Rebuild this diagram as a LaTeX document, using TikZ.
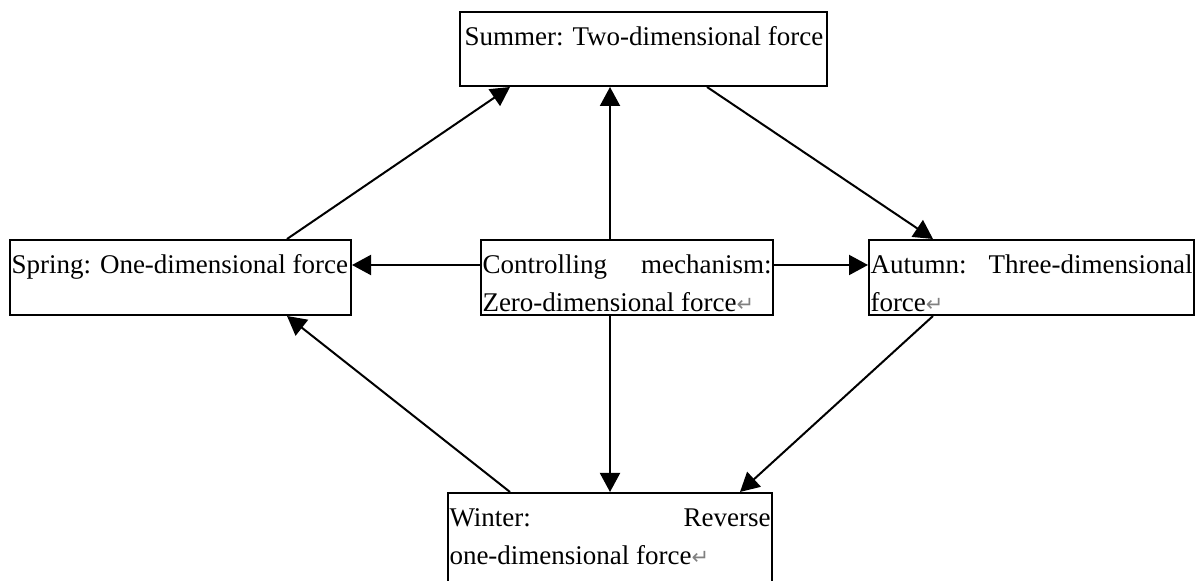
\documentclass[tikz,border=0pt]{standalone}
\usepackage{fontspec}
\setmainfont{Liberation Serif}
\newfontfamily\markfont{DejaVu Sans}
\usetikzlibrary{arrows.meta}

\newcommand{\pmark}{{\markfont\color{gray}\fontsize{10.5pt}{10.5pt}\selectfont ↵}}
\newcommand{\boxtext}[3]{\parbox[t][#2][t]{#1}{\fontsize{13.5pt}{19pt}\selectfont\rule{0pt}{17pt}#3}}

\begin{document}
\begin{tikzpicture}[x=0.5pt,y=-0.5pt]

\tikzset{season/.style = {draw, line width=1pt, inner xsep=0.75pt, inner ysep=0pt, anchor=north west}}
\tikzset{link/.style = {-{Triangle[length=9.5pt,width=10pt]}, line width=1pt}}

\useasboundingbox (0,0) rectangle (1198,581);
\clip (0,0) rectangle (1198,581);

% seasons
\node[season] (summer) at (459,11) {\boxtext{182pt}{37pt}{\hspace{1.5pt}Summer: Two-dimensional force}};
\node[season] (spring) at (9,239) {\boxtext{169pt}{37.5pt}{Spring: One-dimensional force}};
\node[season] (center) at (480,239) {\boxtext{144.5pt}{37.5pt}{Controlling\hfill mechanism:\\Zero-dimensional force\pmark}};
\node[season] (autumn) at (868,239) {\boxtext{161pt}{37.5pt}{Autumn:\hfill Three-dimensional\\force\pmark}};
\node[season] (winter) at (447,492) {\boxtext{160.5pt}{50pt}{Winter:\hfill Reverse\\one-dimensional force\pmark}};

% ends on the centre box
\coordinate (cN) at ([xshift=-8.5pt]center.north);
\coordinate (cS) at ([xshift=-8.5pt]center.south);
\coordinate (cW) at ([yshift=6.25pt]center.west);
\coordinate (cE) at ([yshift=6.25pt]center.east);

% cycle
\draw[link] ([xshift=139pt]spring.north west) -- ([xshift=25.5pt]summer.south west);
\draw[link] ([xshift=124pt]summer.south west) -- ([xshift=32.5pt]autumn.north west);
\draw[link] ([xshift=32.5pt]autumn.south west) -- ([xshift=146.5pt]winter.north west);
\draw[link] ([xshift=31.5pt]winter.north west) -- ([xshift=139pt]spring.south west);

% control
\draw[link] (cN) -- (cN |- summer.south);
\draw[link] (cS) -- (cS |- winter.north);
\draw[link] (cW) -- (cW -| spring.east);
\draw[link] (cE) -- (cE -| autumn.west);

\end{tikzpicture}
\end{document}
